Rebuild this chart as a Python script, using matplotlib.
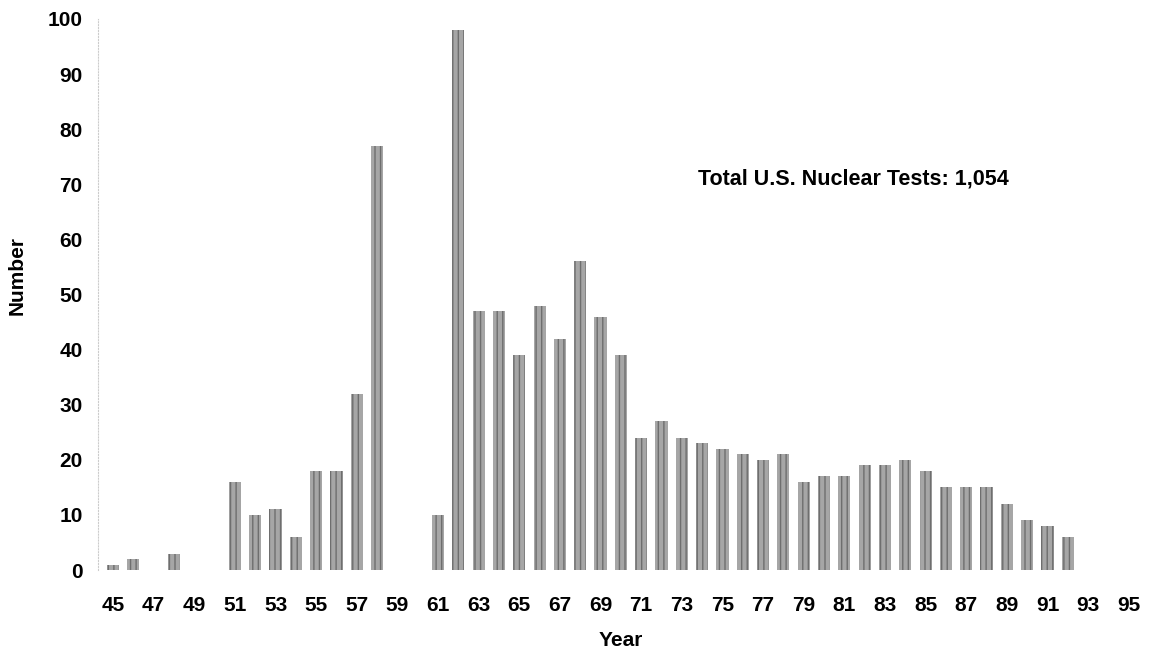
import numpy as np
import matplotlib.pyplot as plt

plt.rcParams['font.family'] = ['Liberation Sans', 'DejaVu Sans']

years = [45, 46, 48, 51, 52, 53, 54, 55, 56, 57, 58, 61, 62, 63, 64, 65, 66, 67, 68, 69,
         70, 71, 72, 73, 74, 75, 76, 77, 78, 79, 80, 81, 82, 83, 84, 85, 86, 87, 88, 89,
         90, 91, 92]
tests = [1, 2, 3, 16, 10, 11, 6, 18, 18, 32, 77, 10, 98, 47, 47, 39, 48, 42, 56, 46,
         39, 24, 27, 24, 23, 22, 21, 20, 21, 16, 17, 17, 19, 19, 20, 18, 15, 15, 15, 12,
         9, 8, 6]
xticks = np.arange(45, 96, 2)
yticks = np.arange(0, 101, 10)
note = "Total U.S. Nuclear Tests: 1,054"

fig = plt.figure(figsize=(11.53, 6.53), dpi=100)
ax = fig.add_axes([0.085, 0.127, 0.907, 0.844])

ax.bar(years, tests, width=0.6, color='#a6a6a6', edgecolor='#6e6e6e',
       hatch='|||', linewidth=0)

ax.set_xlim(44.26, 95.74)
ax.set_ylim(0, 100)
ax.set_xticks(xticks)
ax.set_yticks(yticks)
ax.tick_params(length=0, labelsize=15)
ax.tick_params(axis='x', pad=19)
ax.tick_params(axis='y', pad=11)
for lbl in ax.get_xticklabels() + ax.get_yticklabels():
    lbl.set_fontweight('bold')

for s in ['top', 'right', 'bottom']:
    ax.spines[s].set_visible(False)
ax.spines['left'].set_color('#cccccc')
ax.spines['left'].set_linestyle(':')
ax.spines['left'].set_linewidth(0.8)

ax.set_xlabel('Year', fontsize=15, fontweight='bold')
ax.set_ylabel('Number', fontsize=15, fontweight='bold')
ax.xaxis.set_label_coords(0.5, -0.111)
ax.yaxis.set_label_coords(-0.068, 0.535)

ax.text(73.8, 71, note, fontsize=15.5, fontweight='bold', va='center', ha='left')

fig.savefig('out.png', dpi=100)
